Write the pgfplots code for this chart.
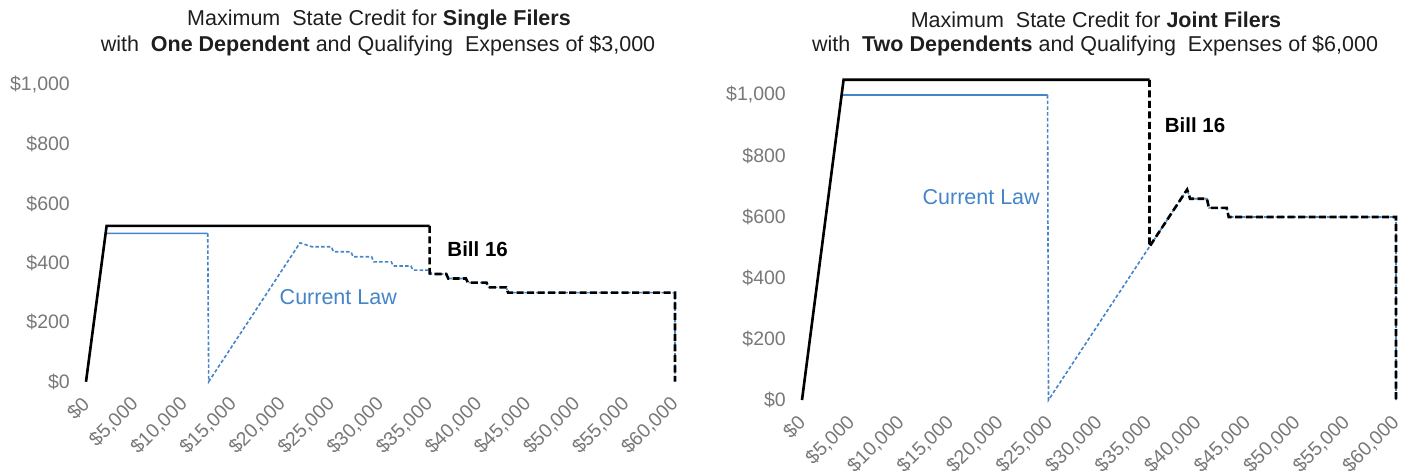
\documentclass[border=0pt]{standalone}
\usepackage{pgfplots}
\pgfplotsset{compat=1.18}
\usepackage{fontspec}
\setmainfont{Liberation Sans}
\definecolor{clblue}{RGB}{68,132,200}
\definecolor{tickgray}{RGB}{120,120,120}
\definecolor{titlecol}{RGB}{30,30,30}
\pgfplotsset{
  chartstyle/.style={
    scale only axis, enlargelimits=false, clip=false,
    xmin=0, xmax=60000, ymin=0, ymax=1000,
    axis line style={draw=none}, tick style={draw=none},
    scaled x ticks=false, scaled y ticks=false,
    xtick={0,5000,...,60000},
    xticklabels={\$0,{\$5,000},{\$10,000},{\$15,000},{\$20,000},{\$25,000},{\$30,000},{\$35,000},{\$40,000},{\$45,000},{\$50,000},{\$55,000},{\$60,000}},
    ytick={0,200,...,1000},
    yticklabels={\$0,\$200,\$400,\$600,\$800,{\$1,000}},
    ticklabel style={font=\fontsize{19.5}{22}\selectfont, text=tickgray},
    yticklabel style={anchor=east, inner sep=0pt},
    yticklabel shift=16pt,
    xticklabel style={rotate=45, anchor=east, inner sep=0pt},
    xticklabel shift=19pt,
  },
  blsolid/.style={clblue, line width=1.6pt},
  bldash/.style={clblue, line width=1.6pt, dash pattern=on 3.5pt off 2.2pt},
  bksolid/.style={black, line width=2.6pt},
  bkdash/.style={black, line width=2.6pt, dash pattern=on 7pt off 3.5pt},
}
\begin{document}
\begin{tikzpicture}
\useasboundingbox (0pt,0pt) rectangle (1407pt,475pt);
% titles
\node[text=titlecol, font=\fontsize{21.5}{24}\selectfont] at (379pt,455pt) {Maximum\ \ State Credit for \textbf{Single Filers}};
\node[text=titlecol, font=\fontsize{21.5}{24}\selectfont] at (378pt,429pt) {with\ \ \textbf{One Dependent} and Qualifying\ \ Expenses of \$3,000};
\node[text=titlecol, font=\fontsize{21.5}{24}\selectfont] at (1096pt,455pt) {Maximum\ \ State Credit for \textbf{Joint Filers}};
\node[text=titlecol, font=\fontsize{21.5}{24}\selectfont] at (1095pt,429pt) {with\ \ \textbf{Two Dependents} and Qualifying\ \ Expenses of \$6,000};

\begin{axis}[chartstyle, at={(86pt,93.3pt)}, anchor=south west, width=589pt, height=296.7pt]
\addplot[blsolid] coordinates {(0,0)(2000,500)(12400,500)};
\addplot[bldash] coordinates {(12400,500)(12500,0)(21800,468)(23000,455)(25000,455)(25200,438)(27000,438)(27200,421)(29100,421)(29300,404)(31100,404)(31300,390)(33100,390)(33300,376)(35000,376)(35200,363)(36700,363)(36900,348)(38700,348)(38900,334)(40800,334)(41000,318)(42800,318)(43000,300)(60000,300)(60000,0)};
\addplot[bksolid] coordinates {(0,0)(2100,525)(35000,525)};
\addplot[bkdash] coordinates {(35000,525)(35000,365)(35200,363)(36700,363)(36900,348)(38700,348)(38900,334)(40800,334)(41000,318)(42800,318)(43000,300)(60000,300)(60000,0)};
\node[font=\bfseries\fontsize{20.5}{24}\selectfont] at (axis cs:39900,447) {Bill 16};
\node[text=clblue, font=\fontsize{21.5}{24}\selectfont] at (axis cs:25700,285) {Current Law};
\end{axis}

\begin{axis}[chartstyle, at={(802pt,75pt)}, anchor=south west, width=594pt, height=305pt]
\addplot[blsolid] coordinates {(0,0)(4000,1000)(24800,1000)};
\addplot[bldash] coordinates {(24800,1000)(24900,0)(38900,690)(39200,660)(40900,660)(41100,630)(42900,630)(43100,600)(60000,600)(60000,0)};
\addplot[bksolid] coordinates {(0,0)(4200,1050)(35100,1050)};
\addplot[bkdash] coordinates {(35100,1050)(35100,503)(38900,690)(39200,660)(40900,660)(41100,630)(42900,630)(43100,600)(60000,600)(60000,0)};
\node[font=\bfseries\fontsize{20.5}{24}\selectfont] at (axis cs:39700,902) {Bill 16};
\node[text=clblue, font=\fontsize{21.5}{24}\selectfont] at (axis cs:18100,666) {Current Law};
\end{axis}
\end{tikzpicture}
\end{document}
